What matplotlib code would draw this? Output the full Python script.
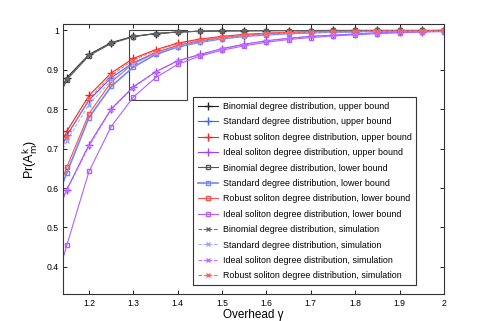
import numpy as np
import matplotlib
matplotlib.use('Agg')
import matplotlib.pyplot as plt
from matplotlib.patches import Rectangle

plt.rcParams['font.family'] = ['Liberation Sans', 'DejaVu Sans']

# overhead values (first point lies left of the visible range)
gamma = [1.10, 1.15, 1.20, 1.25, 1.30, 1.35, 1.40, 1.45, 1.50, 1.55,
         1.60, 1.65, 1.70, 1.75, 1.80, 1.85, 1.90, 1.95, 2.00]

# upper bounds
binomial_upper = [0.760, 0.880, 0.939, 0.969, 0.985, 0.992, 0.996, 0.998, 0.999, 0.9993,
                  0.9995, 0.9997, 0.9998, 0.9999, 0.9999, 1.0, 1.0, 1.0, 1.0]
standard_upper = [0.610, 0.734, 0.823, 0.880, 0.918, 0.944, 0.961, 0.972, 0.980, 0.986,
                  0.990, 0.993, 0.995, 0.996, 0.997, 0.998, 0.998, 0.999, 0.999]
robust_upper = [0.620, 0.744, 0.835, 0.892, 0.929, 0.951, 0.968, 0.978, 0.985, 0.990,
                0.993, 0.995, 0.997, 0.998, 0.998, 0.999, 0.999, 0.9995, 1.0]
ideal_upper = [0.470, 0.596, 0.710, 0.801, 0.857, 0.895, 0.923, 0.939, 0.954, 0.965,
               0.974, 0.980, 0.985, 0.988, 0.991, 0.994, 0.996, 0.997, 0.998]

# lower bounds
binomial_lower = [0.750, 0.875, 0.936, 0.967, 0.984, 0.992, 0.996, 0.998, 0.999, 0.9993,
                  0.9995, 0.9997, 0.9998, 0.9999, 0.9999, 1.0, 1.0, 1.0, 1.0]
standard_lower = [0.490, 0.639, 0.779, 0.858, 0.907, 0.939, 0.958, 0.970, 0.979, 0.985,
                  0.989, 0.992, 0.994, 0.996, 0.997, 0.998, 0.998, 0.999, 0.999]
robust_lower = [0.500, 0.653, 0.789, 0.869, 0.916, 0.943, 0.962, 0.974, 0.982, 0.988,
                0.992, 0.994, 0.996, 0.997, 0.998, 0.999, 0.999, 0.9995, 1.0]
ideal_lower = [0.260, 0.455, 0.642, 0.756, 0.831, 0.880, 0.914, 0.935, 0.950, 0.961,
               0.970, 0.977, 0.982, 0.986, 0.989, 0.992, 0.994, 0.996, 0.997]

# simulation
binomial_sim = [0.755, 0.878, 0.938, 0.968, 0.985, 0.992, 0.996, 0.998, 0.999, 0.9993,
                0.9995, 0.9997, 0.9998, 0.9999, 0.9999, 1.0, 1.0, 1.0, 1.0]
standard_sim = [0.590, 0.720, 0.812, 0.873, 0.914, 0.942, 0.960, 0.971, 0.980, 0.986,
                0.990, 0.993, 0.995, 0.996, 0.997, 0.998, 0.998, 0.999, 0.999]
ideal_sim = [0.465, 0.594, 0.706, 0.799, 0.855, 0.894, 0.922, 0.938, 0.953, 0.964,
             0.973, 0.980, 0.985, 0.988, 0.991, 0.994, 0.996, 0.997, 0.998]
robust_sim = [0.600, 0.730, 0.826, 0.886, 0.925, 0.949, 0.966, 0.977, 0.984, 0.989,
              0.993, 0.995, 0.997, 0.998, 0.998, 0.999, 0.999, 0.9995, 1.0]

black = '#222222'
blue = '#4060ff'
red = '#ff2020'
purple = '#a040ff'

fig = plt.figure(figsize=(4.91, 3.21), dpi=100)
ax = fig.add_axes([0.128, 0.083, 0.776, 0.843])

ax.plot(gamma, binomial_upper, '-', color=black, marker='+', ms=6, mew=1, lw=0.8,
        label='Binomial degree distribution, upper bound')
ax.plot(gamma, standard_upper, '-', color=blue, marker='+', ms=6, mew=1, lw=0.8,
        label='Standard degree distribution, upper bound')
ax.plot(gamma, robust_upper, '-', color=red, marker='+', ms=6, mew=1, lw=0.8,
        label='Robust soliton degree distribution, upper bound')
ax.plot(gamma, ideal_upper, '-', color=purple, marker='+', ms=6, mew=1, lw=0.8,
        label='Ideal soliton degree distribution, upper bound')

ax.plot(gamma, binomial_lower, '-', color='#555555', marker='s', ms=3.5, mfc='none', lw=0.8,
        label='Binomial degree distribution, lower bound')
ax.plot(gamma, standard_lower, '-', color='#6f88ff', marker='s', ms=3.5, mfc='none', lw=1.2,
        label='Standard degree distribution, lower bound')
ax.plot(gamma, robust_lower, '-', color='#ff5050', marker='s', ms=3.5, mfc='none', lw=0.8,
        label='Robust soliton degree distribution, lower bound')
ax.plot(gamma, ideal_lower, '-', color='#b060ff', marker='s', ms=3.5, mfc='none', lw=0.8,
        label='Ideal soliton degree distribution, lower bound')

ax.plot(gamma, binomial_sim, '--', color='#666666', marker='x', ms=3, lw=0.7,
        label='Binomial degree distribution, simulation')
ax.plot(gamma, standard_sim, '--', color='#9aaaff', marker='x', ms=3, lw=0.7,
        label='Standard degree distribution, simulation')
ax.plot(gamma, ideal_sim, '--', color='#c070ff', marker='x', ms=3, lw=0.7,
        label='Ideal soliton degree distribution, simulation')
ax.plot(gamma, robust_sim, '--', color='#ff6060', marker='x', ms=3, lw=0.7,
        label='Robust soliton degree distribution, simulation')

# zoom box
ax.add_patch(Rectangle((1.29, 0.823), 0.13, 0.177, fill=False, ec='#444444', lw=0.8))

ax.set_xlim(1.141, 2.0)
ax.set_ylim(0.33, 1.017)
ax.set_xticks(np.arange(1.2, 2.01, 0.1))
ax.set_xticklabels(['1.2', '1.3', '1.4', '1.5', '1.6', '1.7', '1.8', '1.9', '2'])
ax.set_yticks(np.arange(0.4, 1.01, 0.1))
ax.set_yticklabels(['0.4', '0.5', '0.6', '0.7', '0.8', '0.9', '1'])
ax.tick_params(direction='in', top=True, right=True, labelsize=6.2, length=3, width=0.6, pad=3)
for s in ax.spines.values():
    s.set_color('#333333')
    s.set_linewidth(0.8)

ax.set_xlabel('Overhead γ', fontsize=8.5, labelpad=1)
ax.set_ylabel(r'Pr(A$_{\mathrm{m}}^{\mathrm{k}}$)', fontsize=9, labelpad=5)

leg = ax.legend(loc='upper left', bbox_to_anchor=(0.341, 0.729), borderaxespad=0,
                fontsize=6.4, handlelength=2.3, handletextpad=0.5, labelspacing=0.72,
                fancybox=False, framealpha=1, edgecolor='#333333', borderpad=0.55)
leg.get_frame().set_linewidth(0.8)

fig.savefig('out.png', dpi=100)
